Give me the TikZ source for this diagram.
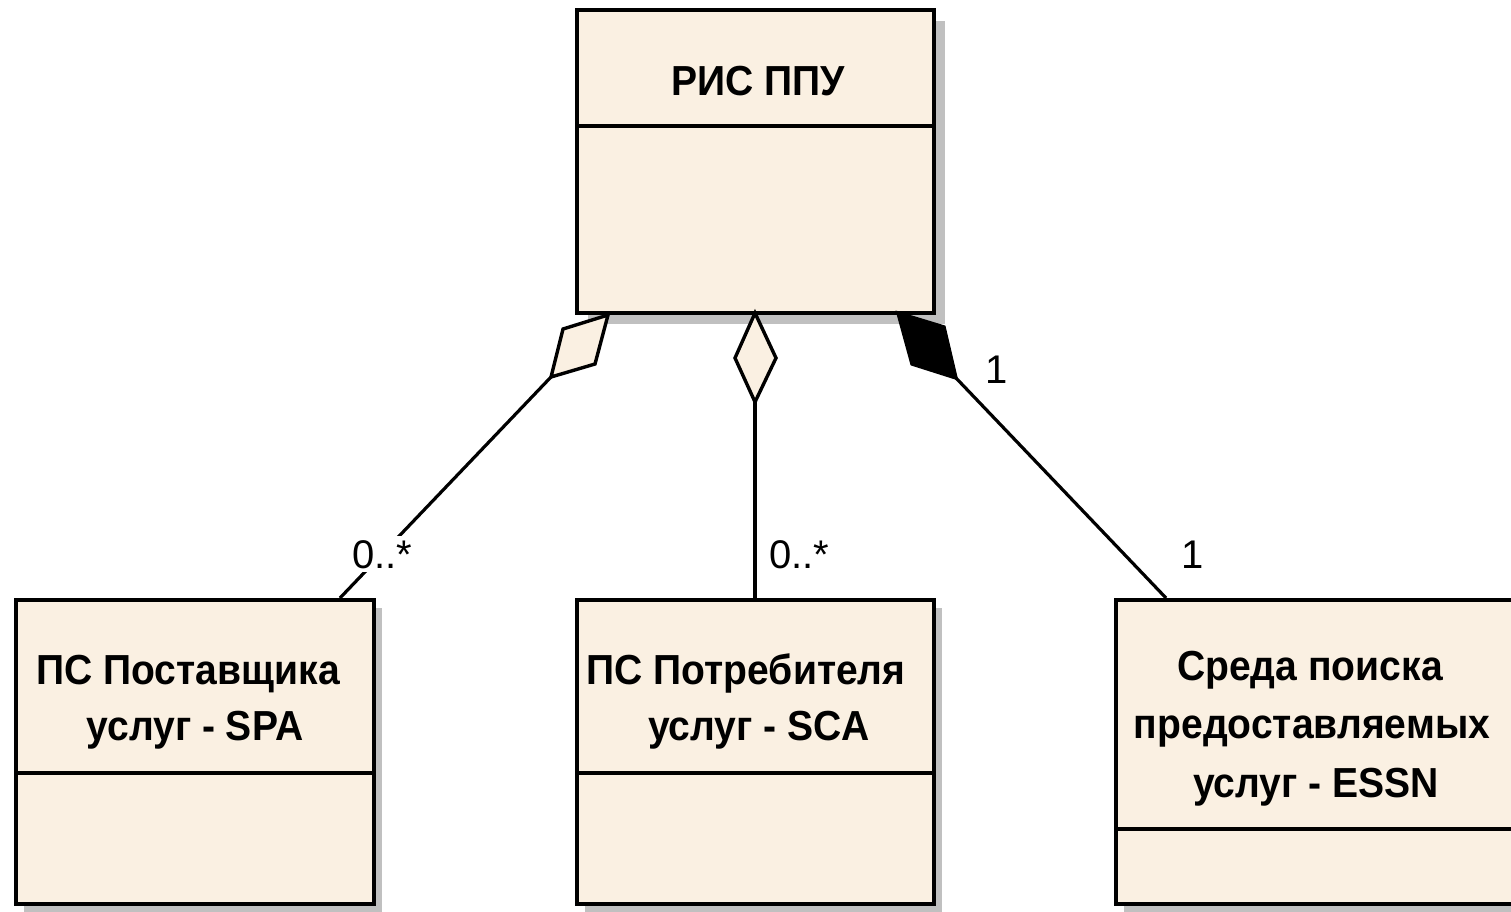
\documentclass[tikz,border=0pt]{standalone}
\usepackage{fontspec}
\setmainfont{Liberation Sans}
\newfontfamily\titlefont[FakeStretch=0.93]{Liberation Sans}
\definecolor{boxfill}{RGB}{250,240,226}
\definecolor{shadowgray}{RGB}{192,192,192}
\tikzset{
  umlbox/.style={draw=black, line width=3.6pt, fill=boxfill, rectangle, inner sep=0pt, anchor=north west},
  divider/.style={draw=black, line width=3.6pt},
  title/.style={font=\fontsize{42}{58}\titlefont\bfseries, inner sep=0pt, anchor=base},
  mult/.style={font=\fontsize{40}{46}\selectfont, inner xsep=1pt, inner ysep=4pt, fill=white},
  conn/.style={draw=black, line width=3.2pt},
  aggr/.style={draw=black, line width=3.4pt, fill=boxfill, line join=miter},
  comp/.style={draw=black, line width=3.4pt, fill=black, line join=miter}
}
\begin{document}
\begin{tikzpicture}[x=1pt, y=-1pt]
\useasboundingbox (0,0) rectangle (1511,911);
% shadows
\fill[shadowgray] (588,21) rectangle (945,324);
\fill[shadowgray] (24,608) rectangle (382,912);
\fill[shadowgray] (585,608) rectangle (942,912);
\fill[shadowgray] (1124,608) rectangle (1523,912);
% boxes
\node[umlbox, minimum width=357pt, minimum height=303pt] (ris) at (575,8) {};
\node[umlbox, minimum width=358pt, minimum height=304pt] (spa) at (14,598) {};
\node[umlbox, minimum width=357pt, minimum height=304pt] (sca) at (575,598) {};
\node[umlbox, minimum width=399pt, minimum height=304pt] (essn) at (1114,598) {};
% dividers
\draw[divider] (ris.west |- 0,126) -- (ris.east |- 0,126);
\draw[divider] (spa.west |- 0,773) -- (spa.east |- 0,773);
\draw[divider] (sca.west |- 0,773) -- (sca.east |- 0,773);
\draw[divider] (essn.west |- 0,829) -- (essn.east |- 0,829);
% titles
\node[title] (rist) at (758,95) {РИС ППУ};
\node[title] (spat1) at (188,684) {ПС Поставщика};
\node[title] (spat2) at (195,740) {услуг - SPA};
\node[title] (scat1) at (746,684) {ПС Потребителя};
\node[title] (scat2) at (759,740) {услуг - SCA};
\node[title] (essnt1) at (1310,680) {Среда поиска};
\node[title] (essnt2) at (1312,738) {предоставляемых};
\node[title] (essnt3) at (1316,797) {услуг - ESSN};
% connector end points
\coordinate (aL) at (608,315);
\coordinate (bL) at (551,377);
\coordinate (sL1) at (563,329);
\coordinate (sL2) at (595,364);
\coordinate (aM) at (755,313);
\coordinate (bM) at (755,402);
\coordinate (sM1) at (735,358);
\coordinate (sM2) at (776,358);
\coordinate (aR) at (898,313);
\coordinate (bR) at (956,378);
\coordinate (sR1) at (944,327);
\coordinate (sR2) at (912,364);
\coordinate (eL) at (340,598);
\coordinate (eM) at (755,598);
\coordinate (eR) at (1166,598);
% connectors
\draw[conn] (bL) -- (eL);
\draw[conn] (bM) -- (eM);
\draw[conn] (bR) -- (eR);
% diamonds
\draw[aggr] (aL) -- (sL1) -- (bL) -- (sL2) -- cycle;
\draw[aggr] (aM) -- (sM1) -- (bM) -- (sM2) -- cycle;
\draw[comp] (aR) -- (sR1) -- (bR) -- (sR2) -- cycle;
% multiplicities
\node[mult, anchor=base west] (m1) at (351,568) {0..*};
\node[mult, anchor=base west] (m2) at (768,568) {0..*};
\node[mult, anchor=base] (m3) at (997,383) {1};
\node[mult, anchor=base] (m4) at (1193,568) {1};
\end{tikzpicture}
\end{document}
